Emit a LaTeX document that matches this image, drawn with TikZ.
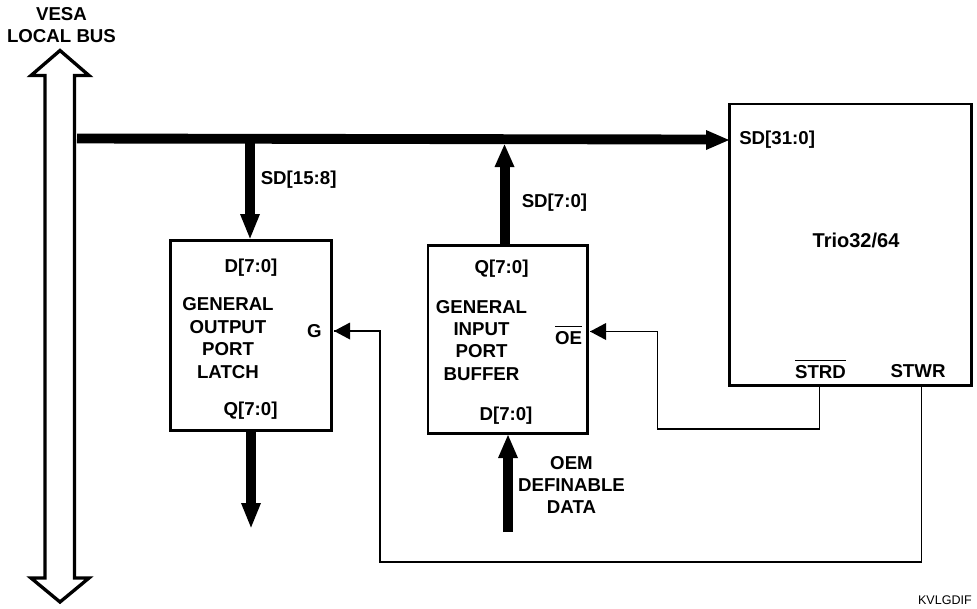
\documentclass[tikz,border=0pt]{standalone}
\usepackage{fontspec}
\usetikzlibrary{calc}
\setmainfont{Liberation Sans}
\tikzset{
  x=0.75pt,y=-0.75pt,
  lbl/.style={font=\fontsize{14}{16.8}\selectfont\bfseries,align=center,inner sep=0pt},
  boxnode/.style={draw,line width=2.2pt,inner sep=0pt,outer sep=0pt,anchor=north west},
  busline/.style={line width=7.4pt},
  thinline/.style={line width=1.2pt}
}
\newcommand{\headleft}[1]{\fill #1 -- ++(16,-8.5) -- ++(0,17) -- cycle;}
\newcommand{\barred}[1]{$\overline{\mbox{\rule{0pt}{12.2pt}#1}}$}
\begin{document}
\begin{tikzpicture}
\useasboundingbox (0,0) rectangle (977,608);
% boxes
\node[boxnode,minimum width=120.75pt,minimum height=142.5pt] (latch) at (170.5,240.5) {};
\node[boxnode,minimum width=119.75pt,minimum height=141pt] (buffer) at (428,245.5) {};
\node[boxnode,minimum width=181.5pt,minimum height=211pt] (trio) at (729.5,104) {};
% hollow bus arrow
\draw[line width=2.5pt,miter limit=10,fill=white] (60,50.5) -- (89,75.5) -- (74.5,75.5) -- (74.5,578) -- (89,578) -- (60,602) -- (31,578) -- (45,578) -- (45,75.5) -- (31,75.5) -- cycle;
% coordinates
\coordinate (busstart) at (77,138.5);
\coordinate (busend) at (trio.west |- busstart);
\coordinate (latchin) at (250,138.5);
\coordinate (bufout) at (505,138.5);
\coordinate (latchout) at (251,527.5);
\coordinate (oemstart) at (508,532);
\coordinate (oepin) at (590,331.5);
\coordinate (gpin) at (334,331);
\coordinate (strd) at (819.5,385);
\coordinate (stwr) at (921.5,385);
% thick bus
\draw[busline] (busstart) -- (708,139.5);
\fill (729,140) -- ++(-23,-10) -- ++(0,20) -- cycle;
% SD[15:8]
\draw[busline] (latchin) -- (250,216);
\fill (250,238.5) -- ++(-10,-24.5) -- ++(20,0) -- cycle;
% SD[7:0]
\draw[busline] (bufout |- buffer.north) -- (505,165);
\fill (504.5,144.5) -- ++(-10,22.5) -- ++(20,0) -- cycle;
% Q out
\draw[busline] (latchout |- latch.south) -- (251,505);
\fill (latchout) -- ++(-10,-24.5) -- ++(20,0) -- cycle;
% OEM
\draw[busline] (oemstart) -- (508,456);
\fill (508,435) -- ++(-10,23) -- ++(20,0) -- cycle;
% control lines
\draw[thinline] (strd) -- (819.5,429) -- (657.5,429) -- (657.5,331.5) -- (oepin);
\draw[thinline] (stwr) -- (921.5,562) -- (380,562) -- (380,331) -- (gpin);
\headleft{(oepin)}
\headleft{(gpin)}
% labels
\node[lbl] (vesa) at (61.5,25) {VESA\\LOCAL BUS};
\node[lbl,anchor=west] (l1) at (260.5,180) {SD[15:8]};
\node[lbl,anchor=west] (l2) at (521.5,202.5) {SD[7:0]};
\node[lbl,anchor=west] (l3) at (739,140) {SD[31:0]};
\node[lbl,font=\fontsize{15}{18}\selectfont\bfseries] (l4) at (856,240) {Trio32/64};
\node[lbl] (l5) at (251,267.5) {D[7:0]};
\node[lbl] (l6) at (228,338) {GENERAL\\OUTPUT\\PORT\\LATCH};
\node[lbl] (l7) at (250.5,411) {Q[7:0]};
\node[lbl] (l8) at (314.5,331) {G};
\node[lbl] (l9) at (501.5,268.5) {Q[7:0]};
\node[lbl] (l10) at (481.5,340.3) {GENERAL\\INPUT\\PORT\\BUFFER};
\node[lbl] (l11) at (506,416) {D[7:0]};
\node[lbl,anchor=base] (l12) at (568.5,344) {\barred{OE}};
\node[lbl] (l13) at (571.5,485) {OEM\\DEFINABLE\\DATA};
\node[lbl,anchor=base] (l14) at (820.5,378.4) {\barred{STRD}};
\node[lbl] (l15) at (918,371) {STWR};
\node[font=\fontsize{9.4}{11}\selectfont,inner sep=0pt,anchor=east] (l16) at (972,600) {KVLGDIF};
\end{tikzpicture}
\end{document}
